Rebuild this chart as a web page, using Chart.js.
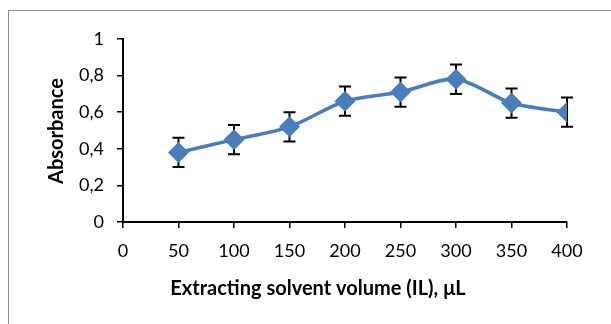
<!DOCTYPE html>
<html>
<head>
<meta charset="utf-8">
<script src="https://cdn.jsdelivr.net/npm/chart.js@4"></script>
<style>
  body { margin: 0; background: #fff; }
  #wrap { position: relative; width: 611px; height: 324px; overflow: hidden; }
  #frame { position: absolute; left: 8px; top: 10px; width: 640px; height: 340px; border: 1px solid #8c8c8c; }
  canvas { position: absolute; left: 0; top: 0; }
</style>
</head>
<body>
<div id="wrap">
  <div id="frame"></div>
  <canvas id="chart" width="611" height="324"></canvas>
</div>
<script>
// data
const volumes = [50, 100, 150, 200, 250, 300, 350, 400];
const absorbance = [0.38, 0.45, 0.52, 0.66, 0.71, 0.78, 0.65, 0.60];
const errors = [0.08, 0.08, 0.08, 0.08, 0.08, 0.08, 0.08, 0.08];
const xTitle = 'Extracting solvent volume (IL), μL';
const yTitle = 'Absorbance';

const fontFamily = 'Lato, "Open Sans", sans-serif';

// error bars drawn through the chart scales, behind the markers
const errorBars = {
    id: 'errorBars',
    beforeDatasetsDraw(chart) {
        const ctx = chart.ctx;
        const xs = chart.scales.x, ys = chart.scales.y;
        ctx.save();
        ctx.strokeStyle = '#000';
        ctx.lineWidth = 2;
        volumes.forEach((v, i) => {
            const x = xs.getPixelForValue(v);
            const top = ys.getPixelForValue(absorbance[i] + errors[i]);
            const bot = ys.getPixelForValue(absorbance[i] - errors[i]);
            ctx.beginPath();
            ctx.moveTo(x, top); ctx.lineTo(x, bot);
            ctx.moveTo(x - 6, top); ctx.lineTo(x + 6, top);
            ctx.moveTo(x - 6, bot); ctx.lineTo(x + 6, bot);
            ctx.stroke();
        });
        ctx.restore();
    }
};

// axis titles
const axisTitles = {
    id: 'axisTitles',
    afterDraw(chart) {
        const ctx = chart.ctx;
        ctx.save();
        ctx.fillStyle = '#000';
        ctx.textAlign = 'center';
        ctx.textBaseline = 'middle';
        ctx.font = 'bold 20px ' + fontFamily;
        ctx.fillText(xTitle, 318, 289);
        ctx.translate(57, 131);
        ctx.rotate(-Math.PI / 2);
        ctx.font = 'bold 20px ' + fontFamily;
        ctx.fillText(yTitle, 0, 0);
        ctx.restore();
    }
};

new Chart(document.getElementById('chart').getContext('2d'), {
    type: 'line',
    data: {
        datasets: [{
            data: volumes.map((v, i) => ({ x: v, y: absorbance[i] })),
            borderColor: '#4a7ebb',
            backgroundColor: '#4a7ebb',
            borderWidth: 3.5,
            tension: 0.3,
            pointStyle: 'rectRot',
            pointRadius: 8,
            pointHoverRadius: 8,
            fill: false
        }]
    },
    options: {
        responsive: false,
        animation: false,
        events: [],
        layout: { padding: { top: 39, right: 44, left: 0, bottom: 0 } },
        plugins: { legend: { display: false }, tooltip: { enabled: false } },
        scales: {
            x: {
                type: 'linear',
                min: 0, max: 400,
                ticks: { stepSize: 50, color: '#000', padding: 12, font: { family: fontFamily, size: 18 } },
                grid: { drawOnChartArea: false, drawTicks: true, tickLength: 6, color: '#000', lineWidth: 1.5 },
                border: { color: '#000', width: 2 },
                afterFit(scale) { scale.height = 102; }
            },
            y: {
                min: 0, max: 1,
                ticks: {
                    stepSize: 0.2, color: '#000', padding: 13,
                    font: { family: fontFamily, size: 18 },
                    callback: v => (Math.round(v * 10) / 10).toString().replace('.', ',')
                },
                grid: { drawOnChartArea: false, drawTicks: true, tickLength: 6, color: '#000', lineWidth: 1.5 },
                border: { color: '#000', width: 2 },
                afterFit(scale) { scale.width = 123; }
            }
        }
    },
    plugins: [errorBars, axisTitles]
});
</script>
</body>
</html>
